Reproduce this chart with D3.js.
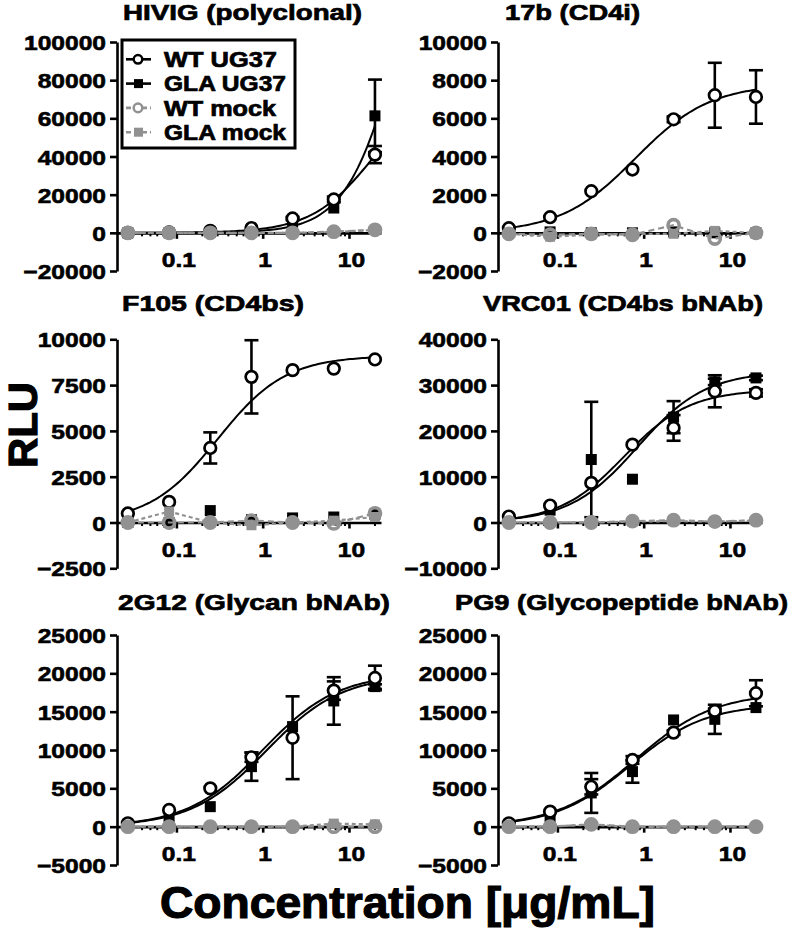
<!DOCTYPE html>
<html><head><meta charset="utf-8">
<script src="https://cdn.jsdelivr.net/npm/d3@7"></script>
<style>
body{margin:0;background:#fff}
text{font-family:"Liberation Sans",Arial,Helvetica,sans-serif;font-weight:bold;fill:#000;stroke:#000;stroke-width:0.6px}
</style>
</head><body>
<svg id="chart" width="800" height="931"></svg>
<script>
// ---------------- data ----------------
const concentrations = [0.0274, 0.0823, 0.247, 0.741, 2.22, 6.67, 20];
const panelTitles = ["HIVIG (polyclonal)", "17b (CD4i)", "F105 (CD4bs)",
  "VRC01 (CD4bs bNAb)", "2G12 (Glycan bNAb)", "PG9 (Glycopeptide bNAb)"];
const yDomains = [[-20000, 100000], [-2000, 10000], [-2500, 10000],
  [-10000, 40000], [-5000, 25000], [-5000, 25000]];
const yTickValues = [
  [-20000, 0, 20000, 40000, 60000, 80000, 100000],
  [-2000, 0, 2000, 4000, 6000, 8000, 10000],
  [-2500, 0, 2500, 5000, 7500, 10000],
  [-10000, 0, 10000, 20000, 30000, 40000],
  [-5000, 0, 5000, 10000, 15000, 20000, 25000],
  [-5000, 0, 5000, 10000, 15000, 20000, 25000]];
const xTickValues = [0.1, 1, 10];
const xTickLabels = ["0.1", "1", "10"];
const xMinorTicks = [0.03,0.04,0.05,0.06,0.07,0.08,0.09,0.2,0.3,0.4,0.5,0.6,0.7,0.8,0.9,2,3,4,5,6,7,8,9,20];
const seriesNames = ["WT UG37", "GLA UG37", "WT mock", "GLA mock"];

const wtUG37 = [
  [0, 200, 1000, 2500, 7500, 17500, 41000],
  [240, 820, 2180, 3320, 5950, 7210, 7120],
  [490, 1125, 4070, 7950, 8315, 8400, 8900],
  [1300, 3700, 8650, 17000, 20650, 28650, 28300],
  [440, 2180, 5000, 9050, 11600, 17750, 19400],
  [440, 1960, 5200, 8700, 12270, 15100, 17400]];
const wtUG37Err = [
  [0, 0, 0, 0, 800, 1500, 4500],
  [0, 0, 0, 0, 150, 1700, 1400],
  [0, 0, 850, 2000, 0, 0, 0],
  [0, 0, 0, 0, 2800, 3500, 800],
  [0, 0, 0, 600, 5400, 1200, 1600],
  [0, 0, 1000, 500, 300, 300, 1700]];
const glaUG37 = [
  [0, 0, 300, 1200, 5500, 13000, 61300],
  [100, 50, 0, 0, 50, 0, 0],
  [0, 0, 650, 150, 250, 300, 450],
  [1000, 2700, 13750, 9450, 23000, 30700, 31570],
  [300, 1300, 2610, 7830, 13050, 16400, 18270],
  [300, 1300, 4400, 7180, 13920, 14000, 15530]];
const glaUG37Err = [
  [0, 0, 0, 0, 0, 0, 19000],
  [0, 0, 0, 0, 0, 0, 0],
  [0, 0, 0, 0, 0, 0, 0],
  [0, 0, 12600, 0, 3500, 700, 500],
  [0, 0, 0, 1850, 0, 3100, 300],
  [0, 0, 2600, 1450, 0, 1900, 0]];
const wtMock = [
  [0, 0, 0, 0, 0, 600, 1600],
  [-50, -100, -50, -100, 400, -300, 0],
  [0, 0, 0, 100, 0, -50, 500],
  [0, 0, 0, 300, 500, 200, 500],
  [0, 0, 0, 0, 0, 0, 0],
  [0, 0, 300, 0, 0, 0, 0]];
const glaMock = [
  [0, 0, 0, 0, 0, 400, 1500],
  [-50, -200, -100, -50, -50, 100, 0],
  [0, 600, 0, -150, 0, 100, 300],
  [0, 0, 0, 200, 300, 200, 400],
  [0, 0, 0, 0, 0, 400, 300],
  [0, 0, 300, -100, 0, 0, 0]];

// sigmoidal fit parameters (top, EC50, Hill)
const wtFitTop  = [80000, 7800, 9100, 29000, 20000, 17500];
const wtFitEC50 = [19.6, 0.8, 0.3, 0.6, 1.0, 0.8];
const wtFitHill = [1.2, 1.0, 1.1, 1.15, 1.0, 0.95];
const glaFitTop  = [200000, null, null, 33000, 19800, 16000];
const glaFitEC50 = [39.2, null, null, 0.85, 1.1, 0.7];
const glaFitHill = [1.4, null, null, 1.1, 1.0, 1.0];

// ---------------- layout ----------------
const GRAY = "#919191";
const svg = d3.select("#chart");
const colAxisX = [117, 498];
const plotW = 264;
const rowY = [[271, 42], [568.3, 339.3], [865, 635]];
const titleX = [123, 505, 122, 483, 118, 455];
const titleW = [239, 135, 182, 280, 272, 333];
const titleBase = [20, 20, 311, 311, 610, 610];

function scaledText(g, x, y, str, sx, anchor, size) {
  return g.append("g").attr("transform", `translate(${x},${y}) scale(${sx},1)`)
    .append("text").attr("text-anchor", anchor).style("font-size", size + "px").text(str);
}

panelTitles.forEach((title, p) => {
  const col = p % 2, row = Math.floor(p / 2);
  const x0 = colAxisX[col];
  const x = d3.scaleLog().domain([0.0205, 23.5]).range([x0, x0 + plotW]);
  const y = d3.scaleLinear().domain(yDomains[p]).range(rowY[row]);
  const g = svg.append("g");

  // title
  g.append("text").attr("x", titleX[p]).attr("y", titleBase[p])
    .attr("textLength", titleW[p]).attr("lengthAdjust", "spacingAndGlyphs")
    .style("font-size", "22.5px").style("stroke-width", "0.7px").text(title);

  // y axis
  const ya = g.append("g").attr("transform", `translate(${x0},0)`)
    .call(d3.axisLeft(y).tickValues(yTickValues[p]).tickSize(7).tickSizeOuter(0).tickFormat(d3.format("d")));
  ya.select(".domain").attr("stroke", "#000").attr("stroke-width", 2.6);
  ya.selectAll(".tick line").attr("stroke", "#000").attr("stroke-width", 2.6);
  ya.selectAll(".tick text").each(function(d) {
    const tk = d3.select(this.parentNode);
    d3.select(this).remove();
    scaledText(tk, -11, 7.5, d3.format("d")(d), 1.17, "end", 21);
  });

  // x axis at y = 0
  const y0 = y(0);
  const xa = g.append("g").attr("transform", `translate(0,${y0})`)
    .call(d3.axisBottom(x).tickValues(xTickValues).tickSize(6).tickSizeOuter(0));
  xa.select(".domain").attr("stroke", "#000").attr("stroke-width", 2.6);
  xa.selectAll(".tick line").attr("stroke", "#000").attr("stroke-width", 2.6);
  xa.selectAll(".tick text").each(function(d, i) {
    const tk = d3.select(this.parentNode);
    d3.select(this).remove();
    scaledText(tk, 2, 34, xTickLabels[i], 1.17, "middle", 21);
  });
  g.append("g").selectAll("line").data(xMinorTicks).join("line")
    .attr("x1", d => x(d)).attr("x2", d => x(d))
    .attr("y1", y0).attr("y2", y0 + 3.5)
    .attr("stroke", "#000").attr("stroke-width", 2);

  // fitted curves
  const fitLine = d3.line().x(d => x(d[0])).y(d => y(d[1]));
  const lo = Math.log10(concentrations[0]), hi = Math.log10(concentrations[concentrations.length - 1]);
  const lx = d3.range(0, 101).map(i => Math.pow(10, lo + i / 100 * (hi - lo)));
  function fit(top, ec50, hill) { return lx.map(c => [c, top / (1 + Math.pow(ec50 / c, hill))]); }
  if (glaFitTop[p] !== null)
    g.append("path").attr("d", fitLine(fit(glaFitTop[p], glaFitEC50[p], glaFitHill[p])))
      .attr("fill", "none").attr("stroke", "#000").attr("stroke-width", 2);
  g.append("path").attr("d", fitLine(fit(wtFitTop[p], wtFitEC50[p], wtFitHill[p])))
    .attr("fill", "none").attr("stroke", "#000").attr("stroke-width", 2);

  // error bars
  function errBars(vals, errs, color) {
    concentrations.forEach((c, i) => {
      if (!errs[i]) return;
      const cx = x(c), yt = y(vals[i] + errs[i]), yb = y(vals[i] - errs[i]);
      g.append("line").attr("x1", cx).attr("x2", cx).attr("y1", yt).attr("y2", yb)
        .attr("stroke", color).attr("stroke-width", 2.6);
      [yt, yb].forEach(yy => g.append("line").attr("x1", cx - 7).attr("x2", cx + 7)
        .attr("y1", yy).attr("y2", yy).attr("stroke", color).attr("stroke-width", 2.6));
    });
  }
  errBars(glaUG37[p], glaUG37Err[p], "#000");
  errBars(wtUG37[p], wtUG37Err[p], "#000");

  // black points
  g.append("g").selectAll("rect").data(glaUG37[p]).join("rect")
    .attr("x", (d, i) => x(concentrations[i]) - 5.5).attr("y", d => y(d) - 5.5)
    .attr("width", 11).attr("height", 11).attr("fill", "#000");
  g.append("g").selectAll("circle").data(wtUG37[p]).join("circle")
    .attr("cx", (d, i) => x(concentrations[i])).attr("cy", d => y(d)).attr("r", 5.8)
    .attr("fill", "#fff").attr("stroke", "#000").attr("stroke-width", 2.7);

  // mock series
  const ml = d3.line().x((d, i) => x(concentrations[i])).y(d => y(d));
  g.append("path").attr("d", ml(wtMock[p])).attr("fill", "none").attr("stroke", GRAY)
    .attr("stroke-width", 2.2).attr("stroke-dasharray", "6,4");
  g.append("path").attr("d", ml(glaMock[p])).attr("fill", "none").attr("stroke", GRAY)
    .attr("stroke-width", 2.2).attr("stroke-dasharray", "4,3");
  g.append("g").selectAll("rect").data(glaMock[p]).join("rect")
    .attr("x", (d, i) => x(concentrations[i]) - 5).attr("y", d => y(d) - 5)
    .attr("width", 10).attr("height", 10).attr("fill", GRAY);
  g.append("g").selectAll("circle").data(wtMock[p]).join("circle")
    .attr("cx", (d, i) => x(concentrations[i])).attr("cy", d => y(d)).attr("r", 5.6)
    .attr("fill", "none").attr("stroke", GRAY).attr("stroke-width", 3.6);
});

// ---------------- legend ----------------
const lg = svg.append("g");
lg.append("rect").attr("x", 122).attr("y", 40).attr("width", 173).attr("height", 108)
  .attr("fill", "#fff").attr("stroke", "#000").attr("stroke-width", 3);
const legendTextW = [113, 122, 112, 122];
seriesNames.forEach((name, i) => {
  const cy = 59.3 + i * 24.3;
  const color = i < 2 ? "#000" : GRAY;
  lg.append("line").attr("x1", 126).attr("x2", 151).attr("y1", cy).attr("y2", cy)
    .attr("stroke", color).attr("stroke-width", 2.6)
    .attr("stroke-dasharray", i < 2 ? null : "5,3");
  if (i % 2 === 0)
    lg.append("circle").attr("cx", 138).attr("cy", cy).attr("r", 4.3)
      .attr("fill", "#fff").attr("stroke", color).attr("stroke-width", 2.5);
  else
    lg.append("rect").attr("x", 134).attr("y", cy - 4.5).attr("width", 9).attr("height", 9).attr("fill", color);
  lg.append("text").attr("x", 164).attr("y", cy + 7.8)
    .attr("textLength", legendTextW[i]).attr("lengthAdjust", "spacingAndGlyphs")
    .style("font-size", "21.5px").style("stroke-width", "0.7px").text(name);
});

// ---------------- axis titles ----------------
svg.append("text").attr("transform", "translate(37,425) rotate(-90)")
  .attr("text-anchor", "middle").attr("textLength", 86).attr("lengthAdjust", "spacingAndGlyphs")
  .style("font-size", "40px").style("stroke-width", "1.2px").text("RLU");
svg.append("text").attr("x", 160).attr("y", 918)
  .attr("textLength", 495).attr("lengthAdjust", "spacingAndGlyphs")
  .style("font-size", "44px").style("stroke-width", "1.2px").text("Concentration [μg/mL]");
</script>
</body></html>
